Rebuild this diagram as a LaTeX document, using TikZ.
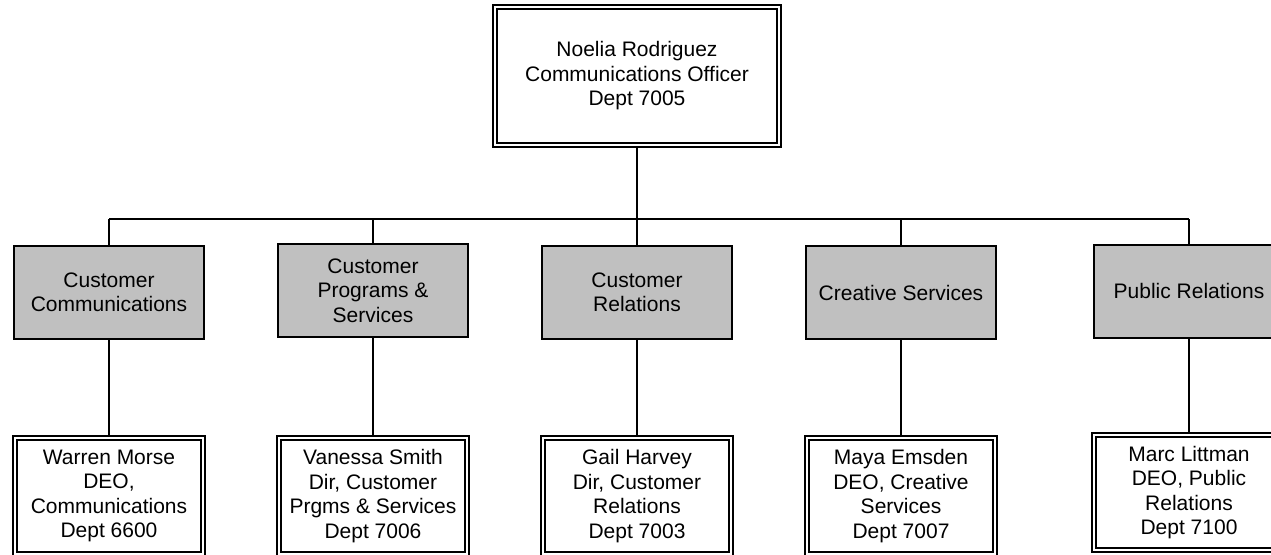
\documentclass[tikz,border=0pt]{standalone}
\usepackage{fontspec}
\setmainfont{Liberation Sans}
\usetikzlibrary{backgrounds}
\tikzset{
  txt/.style={align=center, inner sep=0pt, font=\fontsize{21}{24.5}\selectfont},
  personbox/.style={txt, draw=black, line width=1.8pt, double=white, double distance=2.2pt},
  unitbox/.style={txt, draw=black, fill=gray75, line width=2pt, minimum width=190pt, minimum height=93pt},
  conn/.style={draw=black, line width=2pt}
}
\definecolor{gray75}{HTML}{C0C0C0}
\begin{document}
\begin{tikzpicture}[x=1pt, y=-1pt]
\clip (0,0) rectangle (1271,554);
% top
\node[personbox, minimum width=284pt, minimum height=138pt] (top) at (637,76)
  {Noelia Rodriguez\\Communications Officer\\Dept 7005};
% units
\node[unitbox] (g1) at (109,292.5) {Customer\\Communications};
\node[unitbox] (g2) at (373,290.5) {Customer\\Programs \&\\Services};
\node[unitbox] (g3) at (637,292.5) {Customer\\Relations};
\node[unitbox] (g4) at (901,292.5) {Creative Services};
\node[unitbox] (g5) at (1189,291) {Public Relations};
% people
\node[personbox, minimum width=188pt, minimum height=116pt] (p1) at (109,496)
  {Warren Morse\\DEO,\\Communications\\Dept 6600};
\node[personbox, minimum width=188pt, minimum height=116pt] (p2) at (373,496)
  {Vanessa Smith\\Dir, Customer\\Prgms \& Services\\Dept 7006};
\node[personbox, minimum width=188pt, minimum height=116pt] (p3) at (637,496)
  {Gail Harvey\\Dir, Customer\\Relations\\Dept 7003};
\node[personbox, minimum width=188pt, minimum height=116pt] (p4) at (901,496)
  {Maya Emsden\\DEO, Creative\\Services\\Dept 7007};
\node[personbox, minimum width=190pt, minimum height=115pt] (p5) at (1189,492.5)
  {Marc Littman\\DEO, Public\\Relations\\Dept 7100};
\coordinate (bus) at (0,219);
\begin{scope}[on background layer]
  \draw[conn] (top.south) -- (top.south |- g3.north);
  \draw[conn] (g1.north |- bus) -- (g5.north |- bus);
  \foreach \g in {g1,g2,g4,g5} {\draw[conn] (\g.north) -- (\g.north |- bus);}
  \foreach \i in {1,...,5} {\draw[conn] (g\i.south) -- (g\i.south |- p\i.north);}
\end{scope}
\end{tikzpicture}
\end{document}
